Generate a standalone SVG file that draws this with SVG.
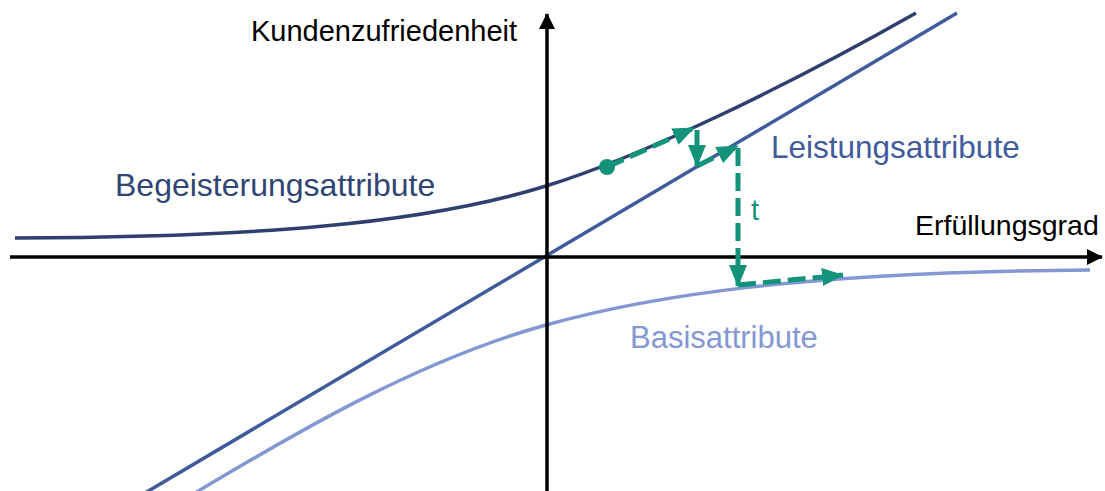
<svg xmlns="http://www.w3.org/2000/svg" width="1105" height="491" viewBox="0 0 1105 491">
<style>
.axis{stroke:#000;stroke-width:3.5;fill:none}
.curve{fill:none;stroke-width:3.5;stroke-linecap:butt}
.g{fill:none;stroke:#13937A;stroke-width:5;stroke-dasharray:18 7}
.lbl{font-family:"Liberation Sans",Arial,sans-serif}
</style>
<defs>
<marker id="ah" viewBox="0 0 16 16" refX="15" refY="8" markerWidth="16" markerHeight="16" markerUnits="userSpaceOnUse" orient="auto"><path d="M0,0 L16,8 L0,16 Z" fill="#000"/></marker>
<marker id="gh" viewBox="0 0 22 18" refX="21" refY="9" markerWidth="22" markerHeight="18" markerUnits="userSpaceOnUse" orient="auto"><path d="M0,0 L22,9 L0,18 Z" fill="#13937A"/></marker>
</defs>
<g id="curves">
<path id="basis" class="curve" stroke="#8397D3" d="M190,496 C300,430 420,360 546,325 C650,296 800,272 1090,270"/>
<path id="leistung" class="curve" stroke="#3F5A9D" d="M145,493 L957,13"/>
<path id="begeisterung" class="curve" stroke="#2F4070" d="M15,238 C250,237 420,225 546,186 C640,157 780,90 916,13"/>
</g>
<g id="axes">
<line class="axis" x1="10" y1="257" x2="1102" y2="257" marker-end="url(#ah)"/>
<line class="axis" x1="547" y1="491" x2="547" y2="14" marker-end="url(#ah)"/>
</g>
<g id="connectors">
<circle cx="607" cy="167" r="8" fill="#13937A"/>
<line class="g" x1="607" y1="167" x2="694" y2="128" marker-end="url(#gh)"/>
<line class="g" x1="697" y1="130" x2="697" y2="166" marker-end="url(#gh)"/>
<line class="g" x1="697" y1="166" x2="738" y2="146" marker-end="url(#gh)"/>
<line class="g" x1="738" y1="148" x2="738" y2="286" marker-end="url(#gh)"/>
<line class="g" x1="738" y1="285" x2="843" y2="275" marker-end="url(#gh)"/>
</g>
<g id="labels" class="lbl">
<text x="251" y="41" font-size="29" fill="#000">Kundenzufriedenheit</text>
<text x="915" y="235" font-size="28.5" fill="#000">Erfüllungsgrad</text>
<text x="115" y="196" font-size="32" fill="#2F4574">Begeisterungsattribute</text>
<text x="771" y="158" font-size="31.5" fill="#3F5A9D">Leistungsattribute</text>
<text x="630" y="348" font-size="31" fill="#8397D3">Basisattribute</text>
<text x="751" y="220" font-size="29" fill="#13937A">t</text>
</g>
</svg>
